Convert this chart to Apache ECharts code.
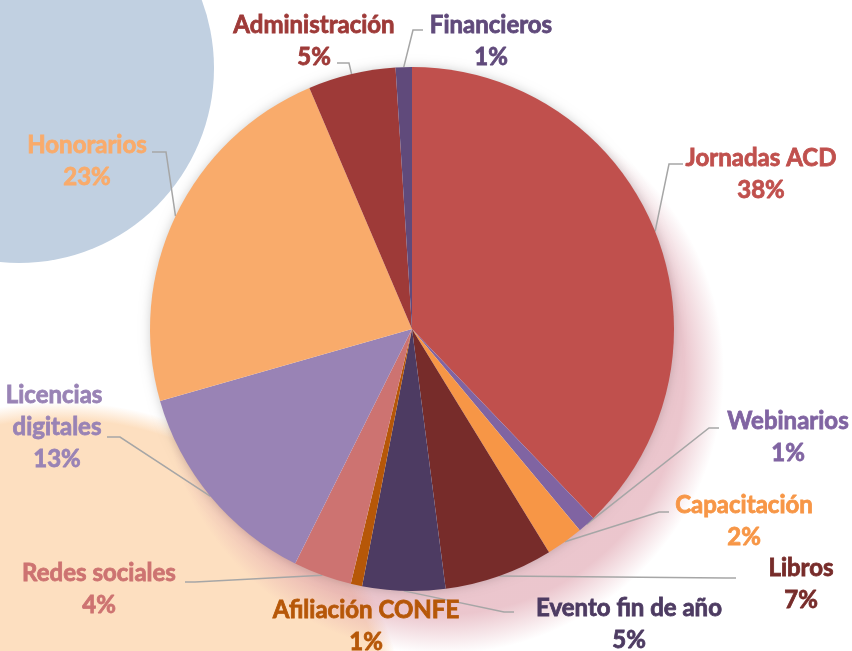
<!DOCTYPE html>
<html>
<head>
<meta charset="utf-8">
<script src="https://cdn.jsdelivr.net/npm/echarts@6/dist/echarts.min.js"></script>
<style>
  html, body { margin: 0; padding: 0; background: #fff; }
  #chart { width: 852px; height: 651px; }
</style>
</head>
<body>
<div id="chart"></div>
<script>
var categories = ['Jornadas ACD', 'Webinarios', 'Capacitación', 'Libros', 'Evento fin de año',
  'Afiliación CONFE', 'Redes sociales', 'Licencias digitales', 'Honorarios', 'Administración', 'Financieros'];
var values = [37.8, 1.1, 2.3, 6.7, 5.1, 0.7, 3.6, 13.2, 23.0, 5.4, 1.0];
var colors = ['#C0504D', '#8064A2', '#F79646', '#772C2A', '#4D3B62',
  '#B65708', '#CD7371', '#9983B5', '#F9AB6B', '#9E3A38', '#604A7B'];

// label centres and leader elbow / end points (layout only)
var labelPos = [[761, 174], [788, 437], [744, 521], [801, 584], [629, 624],
  [366, 626], [99, 589], [57, 427], [87, 161], [314, 41], [491, 41]];
var leaderPts = [
  [[669, 164], [683, 164]],
  [[709, 428], [719, 428]],
  [[659, 512], [669, 512]],
  [[726, 578], [736, 578]],
  [[504, 612], [514, 612]],
  null,
  [[195, 582], [185, 582]],
  [[120, 437], [107, 437]],
  [[166, 152], [152, 152]],
  [[349, 63], [337, 63]],
  [[413, 30], [423, 30]]
];

var pieData = categories.map(function (name, i) {
  var item = {
    name: name,
    value: values[i],
    itemStyle: { color: colors[i] },
    label: { color: colors[i], textBorderColor: colors[i], width: 240 }
  };
  if (name === 'Licencias digitales') {
    item.label.width = 110;
    item.label.overflow = 'break';
  }
  if (!leaderPts[i]) item.labelLine = { show: false };
  return item;
});

var chart = echarts.init(document.getElementById('chart'));

function softDisk(cx, cy, r, color, edge) {
  return {
    type: 'circle',
    z: 0,
    shape: { cx: cx, cy: cy, r: r },
    style: {
      fill: new echarts.graphic.RadialGradient(0.5, 0.5, 0.5, [
        { offset: 0, color: color },
        { offset: edge, color: color },
        { offset: 1, color: color.replace(/[\d.]+\)$/, '0)') }
      ])
    }
  };
}

var option = {
  backgroundColor: '#ffffff',
  animation: false,
  graphic: {
    elements: [
      { type: 'circle', z: 0, shape: { cx: 19, cy: 68, r: 195 }, style: { fill: '#C1D0E1' } },
      softDisk(60, 752, 350, 'rgba(253,223,192,1)', 0.95),
      softDisk(442, 372, 282, 'rgba(222,160,172,0.6)', 0.86),
      {
        type: 'circle', z: 1,
        shape: { cx: 412, cy: 329, r: 261 },
        style: { fill: '#ffffff', shadowBlur: 12, shadowColor: 'rgba(0,0,0,0.22)' }
      }
    ]
  },
  series: [
    {
      type: 'pie',
      z: 10,
      center: [412, 329],
      radius: [0, 262],
      startAngle: 90,
      clockwise: true,
      avoidLabelOverlap: false,
      data: pieData,
      itemStyle: { borderWidth: 0 },
      label: {
        show: true,
        position: 'outside',
        overflow: 'none',
        fontFamily: 'Lato',
        fontWeight: 'bold',
        fontSize: 24,
        lineHeight: 32,
        textBorderWidth: 0.8,
        align: 'center',
        formatter: function (p) {
          return p.name + '\n' + Math.round(p.percent) + '%';
        }
      },
      labelLine: {
        show: true,
        length: 15,
        length2: 10,
        lineStyle: { color: '#A6A6A6', width: 1.5 }
      },
      labelLayout: function (p) {
        var i = p.dataIndex;
        var out = {
          x: labelPos[i][0],
          y: labelPos[i][1],
          align: 'center',
          verticalAlign: 'middle'
        };
        if (leaderPts[i] && p.labelLinePoints) {
          out.labelLinePoints = [p.labelLinePoints[0], leaderPts[i][0], leaderPts[i][1]];
        }
        return out;
      }
    }
  ]
};

chart.setOption(option);
</script>
</body>
</html>
